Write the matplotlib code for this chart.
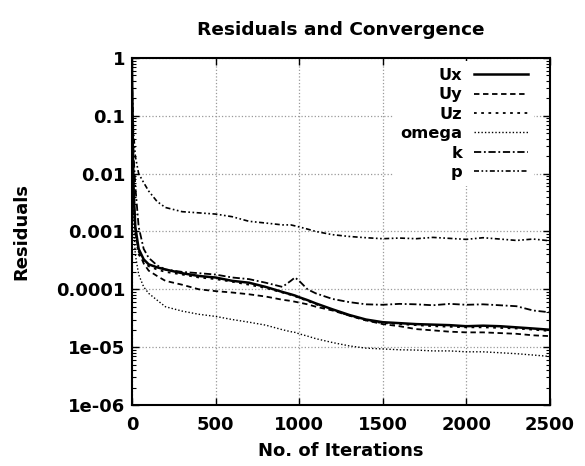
import numpy as np
import matplotlib
matplotlib.use('Agg')
import matplotlib.pyplot as plt
from matplotlib.ticker import LogLocator, NullFormatter, FixedLocator

# dati
iters = [0, 5, 10, 20, 40, 70, 100, 150, 200, 300, 400, 500, 600, 700, 800, 900,
         950, 975, 1000, 1050, 1100, 1200, 1300, 1400, 1500, 1600, 1700, 1800,
         1900, 2000, 2100, 2200, 2300, 2400, 2500]

ux = [0.8, 0.03, 0.005, 0.0012, 0.0005, 0.00033, 0.00027, 0.00024, 0.00022, 0.00019,
      0.00017, 0.00016, 0.00014, 0.00013, 0.00011, 9e-5, 8.2e-5, 7.8e-5, 7.3e-5, 6.5e-5,
      5.7e-5, 4.5e-5, 3.6e-5, 3e-5, 2.7e-5, 2.6e-5, 2.5e-5, 2.45e-5, 2.4e-5, 2.3e-5,
      2.35e-5, 2.3e-5, 2.2e-5, 2.1e-5, 2.0e-5]
uy = [0.6, 0.02, 0.004, 0.001, 0.00045, 0.00028, 0.00021, 0.00017, 0.00014, 0.00012,
      0.0001, 9.3e-5, 8.8e-5, 8.2e-5, 7.5e-5, 6.6e-5, 6.3e-5, 6.1e-5, 5.9e-5, 5.5e-5,
      5e-5, 4.3e-5, 3.5e-5, 2.9e-5, 2.5e-5, 2.3e-5, 2.05e-5, 1.95e-5, 1.85e-5, 1.8e-5,
      1.8e-5, 1.75e-5, 1.7e-5, 1.6e-5, 1.55e-5]
uz = [0.4, 0.015, 0.003, 0.0009, 0.0004, 0.0003, 0.00025, 0.00022, 0.0002, 0.00018,
      0.00016, 0.00015, 0.000135, 0.00012, 0.000105, 8.8e-5, 8e-5, 7.6e-5, 7.1e-5, 6.3e-5,
      5.5e-5, 4.4e-5, 3.5e-5, 2.9e-5, 2.6e-5, 2.5e-5, 2.4e-5, 2.3e-5, 2.25e-5, 2.2e-5,
      2.2e-5, 2.15e-5, 2.1e-5, 2.0e-5, 1.9e-5]
omega = [0.2, 0.005, 0.0012, 0.0004, 0.00018, 0.00011, 8.5e-5, 6.5e-5, 5e-5, 4.2e-5,
         3.7e-5, 3.4e-5, 3e-5, 2.7e-5, 2.4e-5, 2e-5, 1.85e-5, 1.8e-5, 1.7e-5, 1.55e-5,
         1.4e-5, 1.2e-5, 1.05e-5, 9.6e-6, 9.3e-6, 9e-6, 8.9e-6, 8.6e-6, 8.6e-6, 8.3e-6,
         8.3e-6, 8e-6, 7.7e-6, 7.3e-6, 6.9e-6]
k = [0.3, 0.05, 0.02, 0.006, 0.0012, 0.0005, 0.00035, 0.00026, 0.00022, 0.0002,
     0.00019, 0.00018, 0.00016, 0.00015, 0.00013, 0.00011, 0.00014, 0.00016, 0.00014, 0.0001,
     8.5e-5, 6.8e-5, 6e-5, 5.5e-5, 5.4e-5, 5.6e-5, 5.5e-5, 5.3e-5, 5.6e-5, 5.4e-5,
     5.5e-5, 5.3e-5, 5.1e-5, 4.3e-5, 4.0e-5]
p = [0.5, 0.12, 0.05, 0.02, 0.01, 0.007, 0.005, 0.0033, 0.0026, 0.0022,
     0.0021, 0.002, 0.0018, 0.0015, 0.0014, 0.0013, 0.0013, 0.00125, 0.0012, 0.0011,
     0.001, 0.00088, 0.00082, 0.00078, 0.00075, 0.00077, 0.00075, 0.00079, 0.00076, 0.00073,
     0.00078, 0.00074, 0.0007, 0.00074, 0.00069]

labels = ["Ux", "Uy", "Uz", "omega", "k", "p"]
xticks = [0, 500, 1000, 1500, 2000, 2500]
yticks = [1e-6, 1e-5, 1e-4, 1e-3, 1e-2, 1e-1, 1]
yticklabels = ["1e-06", "1e-05", "0.0001", "0.001", "0.01", "0.1", "1"]


def main():
    plt.rcParams['font.family'] = 'DejaVu Sans'
    plt.rcParams['font.weight'] = 'bold'
    fs = 13      # testo assi e titolo
    fs_leg = 11.7

    fig = plt.figure(figsize=(5.85, 4.66), dpi=100)
    ax = fig.add_axes([0.2256, 0.131, 0.7144, 0.7445])

    series = [ux, uy, uz, omega, k, p]
    styles = [
        dict(linestyle='-', linewidth=1.8),
        dict(linestyle=(0, (3, 2)), linewidth=1.3),
        dict(linestyle=(0, (1.5, 2.5)), linewidth=1.3),
        dict(linestyle=(0, (1, 1.5)), linewidth=1.0),
        dict(linestyle=(0, (4, 1.5, 1, 1.5)), linewidth=1.3),
        dict(linestyle=(0, (3, 1.5, 1, 1.5, 1, 1.5)), linewidth=1.2),
    ]
    for y, lab, st in zip(series, labels, styles):
        ax.plot(iters, y, color='black', label=lab, **st)

    ax.set_yscale('log')
    ax.set_xlim(0, 2500)
    ax.set_ylim(1e-6, 1)
    ax.xaxis.set_major_locator(FixedLocator(xticks))
    ax.set_xticklabels([str(v) for v in xticks], fontsize=fs, fontweight='bold')
    ax.yaxis.set_major_locator(FixedLocator(yticks))
    ax.set_yticklabels(yticklabels, fontsize=fs, fontweight='bold')
    ax.yaxis.set_minor_locator(LogLocator(base=10, subs=np.arange(2, 10)))
    ax.yaxis.set_minor_formatter(NullFormatter())
    ax.tick_params(which='both', direction='in', top=True, right=True)
    ax.tick_params(which='major', length=5, width=1.0)
    ax.tick_params(which='minor', length=3, width=0.8)
    ax.tick_params(axis='x', pad=8)
    ax.tick_params(axis='y', pad=5)
    ax.grid(True, which='major', color='#999999', linestyle=':', linewidth=0.9)
    for s in ax.spines.values():
        s.set_linewidth(1.5)

    ax.text(0.5, 1.08, "Residuals and Convergence", transform=ax.transAxes,
            ha='center', va='center', fontsize=13.3, fontweight='bold')
    ax.set_xlabel("No. of Iterations", fontsize=fs, fontweight='bold')
    ax.set_ylabel("Residuals", fontsize=fs, fontweight='bold')
    ax.xaxis.set_label_coords(0.5, -0.106)
    ax.yaxis.set_label_coords(-0.242, 0.5)

    leg = ax.legend(loc='upper right', bbox_to_anchor=(0.963, 0.99), markerfirst=False,
                    frameon=True, framealpha=1, edgecolor='none', fancybox=False,
                    borderaxespad=0, handlelength=3.3, handletextpad=0.75,
                    labelspacing=0.27, prop={'size': fs_leg, 'weight': 'bold'})
    leg.get_frame().set_facecolor('white')

    fig.savefig("out.png", dpi=100)


if __name__ == "__main__":
    main()
